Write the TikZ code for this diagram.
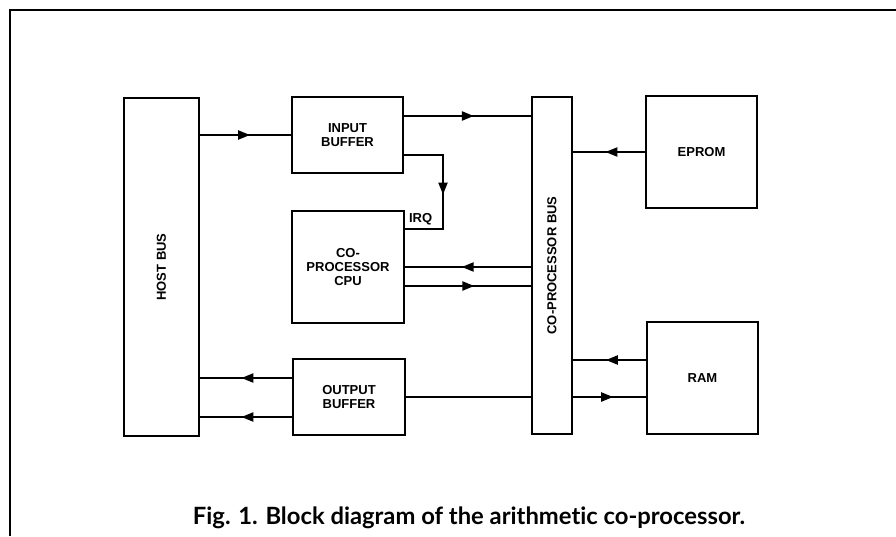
\documentclass[tikz,border=0pt]{standalone}
\usepackage{fontspec}
\setmainfont{Liberation Sans}
\newfontfamily\capfont[Ligatures=NoCommon]{Lato}
\usetikzlibrary{arrows.meta,decorations.markings}
\tikzset{
  blk/.style={draw, line width=1.8pt, minimum width=#1, inner sep=0pt, align=center,
    font=\fontsize{13}{14}\selectfont\bfseries},
  wire/.style={line width=2.2pt},
  midarrow/.style={wire, postaction={decorate}, decoration={markings,
    mark=at position #1 with {\arrow{Triangle[length=12pt,width=9pt]}}}},
  midarrow/.default=0.55
}
\begin{document}
\begin{tikzpicture}[x=1pt,y=-1pt]
\useasboundingbox (0,0) rectangle (896,536);
% frame
\draw[line width=2.6pt] (10,536) -- (10,10) -- (896,10);
% blocks
\node[blk=75pt, minimum height=338pt] (host) at (161.5,267) {\rotatebox{90}{HOST BUS}};
\node[blk=111pt, minimum height=76pt] (inbuf) at (347.5,135) {INPUT\\BUFFER};
\node[blk=112pt, minimum height=112pt] (cpu) at (348,267) {CO-\\PROCESSOR\\CPU};
\node[blk=112pt, minimum height=76pt] (outbuf) at (349,397) {OUTPUT\\BUFFER};
\node[blk=40pt, minimum height=337pt] (cpbus) at (552,265.5) {\rotatebox{90}{CO-PROCESSOR BUS}};
\node[blk=111pt, minimum height=112pt] (eprom) at (701.5,152) {EPROM};
\node[blk=111pt, minimum height=112pt] (ram) at (702.5,378) {RAM};
% connectors
\draw[midarrow] (inbuf.west -| host.east) -- (inbuf.west);
\draw[midarrow] ([yshift=19pt]inbuf.east) -- ([yshift=19pt]inbuf.east -| cpbus.west);
\coordinate (irq) at (443,229);
\draw[midarrow=0.52, line join=miter] ([yshift=-20pt]inbuf.east) -| (irq) -- (irq -| cpu.east);
\node[anchor=south west, inner sep=0pt, font=\fontsize{13}{14}\selectfont\bfseries] (irqlbl) at ([xshift=4pt,yshift=4pt]irq -| cpu.east) {IRQ};
\draw[midarrow] (cpu.east -| cpbus.west) -- (cpu.east);
\draw[midarrow] ([yshift=-19pt]cpu.east) -- ([yshift=-19pt]cpu.east -| cpbus.west);
\draw[midarrow] ([yshift=19pt]outbuf.west) -- ([yshift=19pt]outbuf.west -| host.east);
\draw[midarrow] ([yshift=-20pt]outbuf.west) -- ([yshift=-20pt]outbuf.west -| host.east);
\draw[wire] (outbuf.east) -- (outbuf.east -| cpbus.west);
\draw[midarrow] (eprom.west) -- (eprom.west -| cpbus.east);
\draw[midarrow] ([yshift=18pt]ram.west) -- ([yshift=18pt]ram.west -| cpbus.east);
\draw[midarrow] ([yshift=-19pt]ram.west -| cpbus.east) -- ([yshift=-19pt]ram.west);
% caption
\node[font=\capfont\bfseries, inner sep=0pt] (cap) at (469,518) {\resizebox{552pt}{!}{Fig. 1. Block diagram of the arithmetic co-processor.}};
\end{tikzpicture}
\end{document}
